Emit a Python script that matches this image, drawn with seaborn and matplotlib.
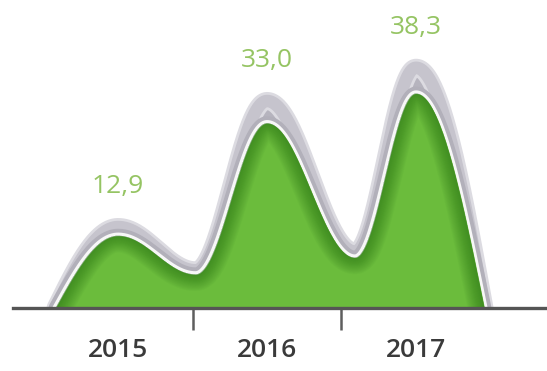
import numpy as np
import matplotlib
matplotlib.use("Agg")
import matplotlib.pyplot as plt
import pandas as pd
import seaborn as sns

# Yearly figures and the dips between the humps
years = ["2015", "2016", "2017"]
values = [12.9, 33.0, 38.3]
value_labels = ["12,9", "33,0", "38,3"]
troughs = [6.0, 9.0]

sns.set_theme(style="white")
plt.rcParams["font.family"] = ["Open Sans", "DejaVu Sans"]

fig = plt.figure(figsize=(5.47, 3.71), dpi=100)
ax = fig.add_axes([0.024, 0.170, 0.976, 0.830])

# Control points of the hump outline: baseline feet, peaks, dips
pos = np.arange(len(years), dtype=float)
dip_offsets = [0.52, 0.59]
ctrl_x = [pos[0] - 0.42]
ctrl_y = [0.0]
for i, v in enumerate(values):
    ctrl_x.append(pos[i])
    ctrl_y.append(v)
    if i < len(troughs):
        ctrl_x.append(pos[i] + dip_offsets[i])
        ctrl_y.append(troughs[i])
ctrl_x.append(pos[-1] + 0.46)
ctrl_y.append(0.0)


def smooth(cx, cy, n=160):
    """Eased segments between control points (flat at peaks and dips)."""
    xs, ys = [], []
    last = len(cx) - 2
    for k in range(len(cx) - 1):
        t = np.linspace(0, 1, n, endpoint=(k == last))
        x0, x1, y0, y1 = cx[k], cx[k + 1], cy[k], cy[k + 1]
        if k == 0:
            e = np.sin(np.pi / 2 * t)
        elif k == last:
            e = 1 - np.cos(np.pi / 2 * t)
        else:
            e = (1 - np.cos(np.pi * t)) / 2
        xs.append(x0 + (x1 - x0) * t)
        ys.append(y0 + (y1 - y0) * e)
    return np.concatenate(xs), np.concatenate(ys)


xs, ys = smooth(ctrl_x, ctrl_y)
curve = pd.DataFrame({"x": xs, "y": ys, "rim": ys * 1.12})

# Grey bevel behind the green area
ax.fill_between(curve["x"], curve["rim"], color="#b6b4be", lw=0, zorder=1)
sns.lineplot(data=curve, x="x", y="rim", estimator=None, sort=False,
             color="#dcdbe1", lw=13, solid_capstyle="round", ax=ax, zorder=1.1)
sns.lineplot(data=curve, x="x", y="rim", estimator=None, sort=False,
             color="#c6c4cd", lw=9, solid_capstyle="round", ax=ax, zorder=1.2)
sns.lineplot(data=curve, x="x", y="y", estimator=None, sort=False,
             color="#b2b0ba", lw=10, ax=ax, zorder=2)
# white highlight between bevel and fill
sns.lineplot(data=curve, x="x", y="y", estimator=None, sort=False,
             color="#f7f7f7", lw=4.5, ax=ax, zorder=3)

# Green area with a soft inner shadow along its edge
poly = ax.fill_between(curve["x"], curve["y"], color="#6bbc3c", lw=0, zorder=4)
clip = poly.get_paths()[0]
for lw in np.linspace(24, 1.5, 16):
    ln, = ax.plot(curve["x"], curve["y"], color="#226e12", lw=lw, alpha=0.045,
                  zorder=5, solid_capstyle="round")
    ln.set_clip_path(clip, transform=ax.transData)

# Value labels above each hump
for p, v, lbl in zip(pos, values, value_labels):
    ax.annotate(lbl, (p, v * 1.12), xytext=(0, 29), textcoords="offset points",
                ha="center", va="center", fontsize=19, color="#95c463", zorder=6)

ax.set_xlim(-0.705, 2.88)
ax.set_ylim(0, 55)
ax.set_xticks(pos)
ax.set_xticklabels(years, fontweight="semibold")
ax.set_xticks(pos[:-1] + 0.5, minor=True)
ax.set_yticks([])
ax.set_xlabel("")
ax.set_ylabel("")
ax.tick_params(axis="x", which="both", bottom=True)
ax.tick_params(axis="x", which="major", length=0, pad=22, labelsize=19,
               labelcolor="#3a3a3a")
ax.tick_params(axis="x", which="minor", length=16, width=1.8, color="#5e5e5e",
               direction="out")
for side in ["left", "right", "top"]:
    ax.spines[side].set_visible(False)
ax.spines["bottom"].set_color("#555555")
ax.spines["bottom"].set_linewidth(2.4)
ax.spines["bottom"].set_zorder(10)
ax.patch.set_alpha(0)

fig.savefig("out.png", dpi=100, facecolor="white")
